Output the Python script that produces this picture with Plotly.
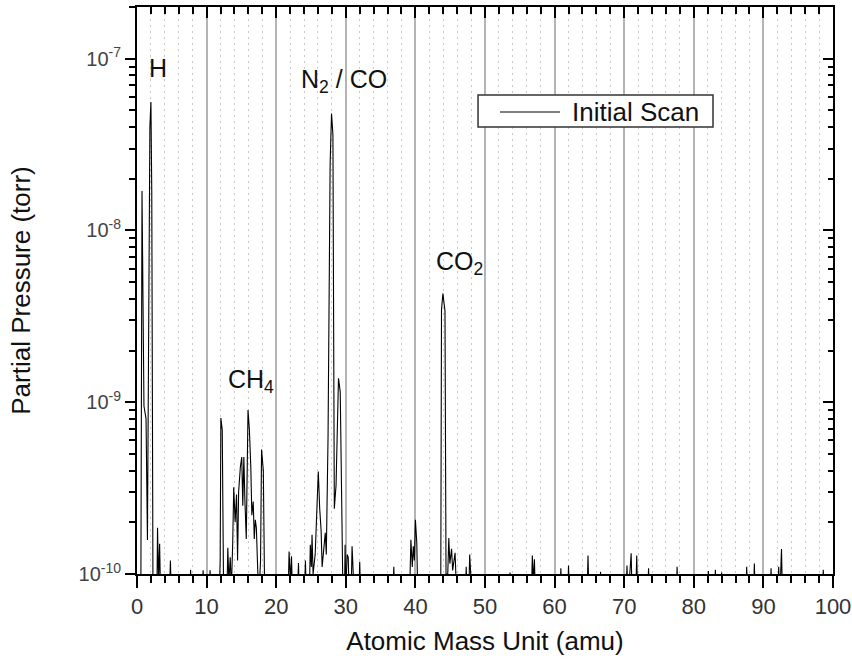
import math
import plotly.graph_objects as go

# ---------------- data ----------------
mass_amu = [
    0.0, 0.55, 0.72, 0.8, 0.9, 1.0, 1.3, 1.5, 1.65, 1.85, 2.0, 2.12, 2.3,
    2.85, 2.95, 3.1, 3.25, 3.4,
    4.65, 4.8, 4.95,
    7.55, 7.7, 7.85,
    9.35, 9.5, 9.65, 10.35, 10.5, 10.65,
    11.8, 11.95, 12.05, 12.25, 12.45,
    12.9, 13.05, 13.2, 13.4, 13.55,
    13.75, 13.9, 14.1, 14.3, 14.45,
    14.6, 14.85, 15.05, 15.2, 15.35, 15.5, 15.7,
    15.95, 16.15, 16.35, 16.5, 16.7, 16.85, 17.0, 17.15, 17.3, 17.5,
    17.75, 17.9, 18.15, 18.35,
    21.7, 21.85, 22.05, 22.2, 22.35,
    23.05, 23.2, 23.35,
    24.05, 24.2, 24.35,
    24.75, 24.9, 25.05, 25.15, 25.3,
    25.6, 25.8, 26.05, 26.25, 26.45, 26.6, 26.85, 27.05, 27.2,
    27.45, 27.75, 27.95, 28.15, 28.35, 28.6, 28.8, 28.95, 29.2, 29.45, 29.6,
    29.8, 29.9, 30.0, 30.2, 30.35, 30.5,
    30.75, 30.9, 31.05, 31.2,
    31.85, 32.0, 32.15,
    36.75, 36.9, 37.05,
    39.15, 39.35, 39.55, 39.7, 39.85, 40.0, 40.2, 40.35,
    43.5, 43.65, 43.75, 43.95, 44.25, 44.4,
    44.65, 44.8, 44.95, 45.05, 45.2, 45.35, 45.7, 45.9,
    47.15, 47.3, 47.45,
    47.65, 47.8, 47.95, 48.1,
    53.45, 53.6, 53.75,
    56.65, 56.8, 56.95, 57.1, 57.25,
    60.75, 60.9, 61.05,
    61.85, 62.0, 62.15,
    64.65, 64.8, 64.95,
    66.45, 66.6, 66.75,
    70.25, 70.4, 70.55, 71.0, 71.15, 71.65, 71.8, 71.95,
    73.35, 73.5, 73.65,
    77.45, 77.6, 77.75,
    81.95, 82.1, 82.25,
    82.95, 83.1, 83.25,
    83.85, 84.0, 84.15,
    87.45, 87.6, 87.75,
    88.55, 88.7, 88.85,
    90.95, 91.1, 91.25,
    92.05, 92.2, 92.35, 92.6, 92.75,
    98.45, 98.6, 98.75,
    100.0,
]

pressure_torr = [
    7e-11, 7e-11, 1.7e-8, 5.4e-9, 1.1e-9, 9.5e-10, 8e-10, 1.58e-10, 1.7e-9, 4.0e-8, 5.6e-8, 1.7e-8, 7e-11,
    7e-11, 1.86e-10, 9e-11, 1.5e-10, 7e-11,
    7e-11, 1.2e-10, 7e-11,
    7e-11, 1.06e-10, 7e-11,
    7e-11, 1.05e-10, 7e-11, 7e-11, 1.05e-10, 7e-11,
    7e-11, 1.2e-10, 8.1e-10, 6.9e-10, 7e-11,
    7e-11, 1.42e-10, 9e-11, 1.25e-10, 8e-11,
    1.5e-10, 3.2e-10, 2.0e-10, 2.9e-10, 1.2e-10,
    3.0e-10, 4.2e-10, 4.8e-10, 2.5e-10, 4.8e-10, 2.7e-10, 1.6e-10,
    9.0e-10, 6.9e-10, 4.2e-10, 2.2e-10, 2.64e-10, 1.6e-10, 2.07e-10, 1.86e-10, 1.2e-10, 7e-11,
    1.2e-10, 5.3e-10, 4.0e-10, 7e-11,
    7e-11, 1.35e-10, 9e-11, 1.27e-10, 7e-11,
    7e-11, 1.16e-10, 7e-11,
    7e-11, 1.2e-10, 7e-11,
    7e-11, 1.48e-10, 1.1e-10, 1.69e-10, 1.0e-10,
    1.3e-10, 2.47e-10, 3.95e-10, 2.4e-10, 1.8e-10, 1.1e-10, 1.5e-10, 1.74e-10, 1.3e-10,
    6.3e-10, 2.46e-8, 4.8e-8, 3.6e-8, 2.4e-10, 3.3e-10, 6.9e-10, 1.38e-9, 1.15e-9, 1.6e-10, 7e-11,
    7e-11, 1.48e-10, 8e-11, 1.3e-10, 1.25e-10, 7e-11,
    7e-11, 1.45e-10, 1.05e-10, 7e-11,
    7e-11, 1.18e-10, 7e-11,
    7e-11, 1.1e-10, 7e-11,
    7e-11, 1.58e-10, 1.1e-10, 1.45e-10, 1.2e-10, 2.07e-10, 1.52e-10, 7e-11,
    7e-11, 1.0e-10, 3.45e-9, 4.3e-9, 3.4e-9, 1.0e-10,
    1.0e-10, 1.62e-10, 1.15e-10, 1.3e-10, 1.4e-10, 1.05e-10, 1.33e-10, 8e-11,
    7e-11, 1.1e-10, 7e-11,
    7e-11, 1.3e-10, 1.0e-10, 7e-11,
    7e-11, 1.02e-10, 7e-11,
    7e-11, 1.28e-10, 9e-11, 1.22e-10, 7e-11,
    7e-11, 1.08e-10, 7e-11,
    7e-11, 1.12e-10, 7e-11,
    7e-11, 1.28e-10, 7e-11,
    7e-11, 1.03e-10, 7e-11,
    7e-11, 1.12e-10, 7e-11, 1.32e-10, 7e-11, 7e-11, 1.28e-10, 7e-11,
    7e-11, 1.08e-10, 7e-11,
    7e-11, 1.1e-10, 7e-11,
    7e-11, 1.04e-10, 7e-11,
    7e-11, 1.06e-10, 7e-11,
    7e-11, 1.02e-10, 7e-11,
    7e-11, 1.1e-10, 7e-11,
    7e-11, 1.15e-10, 7e-11,
    7e-11, 1.08e-10, 7e-11,
    7e-11, 1.1e-10, 7e-11, 1.4e-10, 7e-11,
    7e-11, 1.06e-10, 7e-11,
    7e-11,
]

series_name = "Initial Scan"
y_major_vals = [1e-10, 1e-9, 1e-8, 1e-7]
y_major_text = ["10<sup>-10</sup>", "10<sup>-9</sup>", "10<sup>-8</sup>", "10<sup>-7</sup>"]
x_tick_vals = [0, 10, 20, 30, 40, 50, 60, 70, 80, 90, 100]

y_minor_vals = [k * 10.0 ** e for e in (-10, -9, -8, -7) for k in range(2, 10) if k * 10.0 ** e <= 2e-7]
y_range = [-10, math.log10(2e-7)]

FONT = "Liberation Sans, Arial, sans-serif"

fig = go.Figure()
fig.add_trace(go.Scatter(
    x=mass_amu, y=pressure_torr, mode="lines", name=series_name,
    line=dict(color="black", width=1.1), showlegend=False,
))
# helper trace to activate the mirrored (top/right) tick axes
fig.add_trace(go.Scatter(x=[], y=[], xaxis="x2", yaxis="y2", showlegend=False, hoverinfo="skip"))

fig.update_layout(
    width=852, height=661,
    margin=dict(l=137, r=19, t=7, b=87, autoexpand=False),
    paper_bgcolor="white", plot_bgcolor="white",
    font=dict(family=FONT, color="#222"),
    showlegend=False,
    xaxis=dict(
        range=[0, 100], tickvals=x_tick_vals, ticks="outside", ticklen=12, tickwidth=2,
        tickcolor="black", showline=True, linecolor="black", linewidth=2,
        showgrid=True, gridcolor="#b4b4b4", gridwidth=1.5, zeroline=False, automargin=False,
        tickfont=dict(size=22, color="#333"),
        title=dict(text="Atomic Mass Unit (amu)", font=dict(size=26, color="#111"), standoff=13),
        minor=dict(dtick=2, tick0=0, ticks="outside", ticklen=7, tickwidth=1.5, tickcolor="black",
                   showgrid=True, gridcolor="#c8c8c8", griddash="2px,4px", gridwidth=1.2),
    ),
    yaxis=dict(
        type="log", range=y_range, tickvals=y_major_vals, ticktext=y_major_text,
        ticks="outside", ticklen=10, tickwidth=2, tickcolor="black", automargin=False,
        showline=True, linecolor="black", linewidth=2, showgrid=False, zeroline=False,
        tickfont=dict(size=20, color="#444"),
        title=dict(text="Partial Pressure (torr)", font=dict(size=26, color="#111"), standoff=40),
        minor=dict(tickvals=y_minor_vals, ticks="outside", ticklen=6, tickwidth=1.5, tickcolor="black", showgrid=False),
    ),
    xaxis2=dict(
        overlaying="x", side="top", anchor="y", range=[0, 100], tickvals=x_tick_vals, automargin=False,
        ticks="inside", ticklen=11, tickwidth=2, tickcolor="black", showticklabels=False,
        showline=True, linecolor="black", linewidth=2, showgrid=False, zeroline=False,
        minor=dict(dtick=2, tick0=0, ticks="inside", ticklen=7, tickwidth=1.5, tickcolor="black", showgrid=False),
    ),
    yaxis2=dict(
        overlaying="y", side="right", anchor="x", type="log", range=y_range, tickvals=y_major_vals,
        ticks="inside", ticklen=10, tickwidth=2, tickcolor="black", showticklabels=False, automargin=False,
        showline=True, linecolor="black", linewidth=2, showgrid=False, zeroline=False,
        minor=dict(tickvals=y_minor_vals, ticks="inside", ticklen=5, tickwidth=1.5, tickcolor="black", showgrid=False),
    ),
)

# legend box (drawn to match the original's wide framed legend)
fig.add_shape(type="rect", xref="paper", yref="paper", x0=0.490, x1=0.8276, y0=0.7884, y1=0.8448,
              line=dict(color="#333", width=1.5), fillcolor="white", layer="above")
fig.add_shape(type="line", xref="paper", yref="paper", x0=0.5216, x1=0.6078, y0=0.8148, y1=0.8148,
              line=dict(color="black", width=1.2), layer="above")
fig.add_annotation(x=0.6221, y=0.8148, xref="paper", yref="paper", xanchor="left", yanchor="middle",
                   text=series_name, showarrow=False, font=dict(size=26, color="#111", family=FONT))

labels = [
    ("H", 3.06, -7.055),
    ("N<sub>2</sub> / CO", 29.8, -7.13),
    ("CO<sub>2</sub>", 46.3, -8.19),
    ("CH<sub>4</sub>", 16.43, -8.875),
]
for text, xv, yv in labels:
    fig.add_annotation(x=xv, y=yv, xref="x", yref="y", text=text, showarrow=False,
                       font=dict(size=25, color="#111", family=FONT))

fig.write_html("out.html")
